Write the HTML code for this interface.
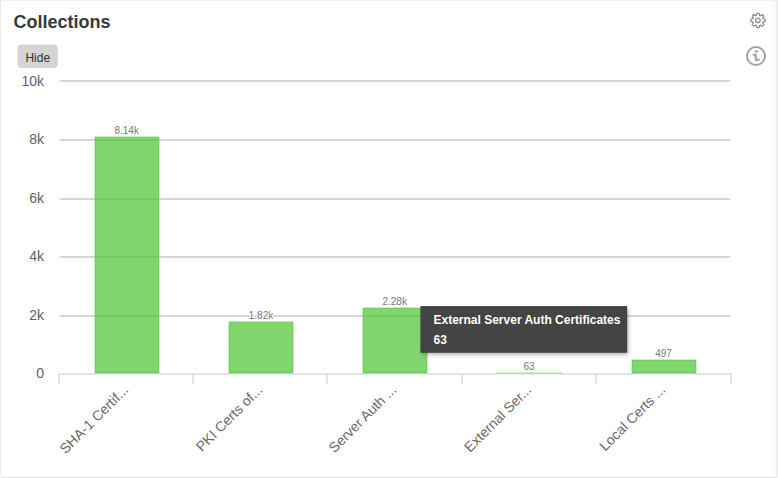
<!DOCTYPE html>
<html><head><meta charset="utf-8">
<style>
html,body{margin:0;padding:0;background:#fff;width:778px;height:478px;overflow:hidden;}
body{font-family:"Liberation Sans",Arial,sans-serif;position:relative;}
.card{position:absolute;left:0;top:0;width:776px;height:476px;border:1px solid #ebebeb;border-top-color:#f3f3f3;border-right-color:#e6e6e6;border-bottom-color:#e2e2e2;border-radius:0 0 3px 3px;background:#fff;}
.title{position:absolute;left:13.4px;top:11.2px;font-size:18px;font-weight:bold;color:#383838;line-height:22px;}
svg{position:absolute;left:0;top:0;}
</style></head><body>
<div class="card"></div>
<div style="position:absolute;left:771px;top:1px;width:6px;height:474px;background:linear-gradient(to right,rgba(0,0,0,0),rgba(0,0,0,0.045));"></div>
<div class="title">Collections</div>
<svg width="778" height="478" viewBox="0 0 778 478">
  <defs><filter id="soft" x="-20%" y="-20%" width="140%" height="140%"><feGaussianBlur stdDeviation="0.3"/></filter></defs>
  <!-- hide button -->
  <rect x="17.6" y="44.5" width="40.2" height="23.6" rx="4" fill="#d4d4d7"/>
  <text x="37.8" y="61.6" text-anchor="middle" font-family="Liberation Sans, Arial, sans-serif" font-size="12" fill="#333">Hide</text>
  <!-- gear icon -->
  <g transform="translate(758,20.4)" fill="none" stroke="#858585" stroke-width="1.2" stroke-linejoin="round" filter="url(#soft)">
    <path d="M-1.51 -5.08L-1.24 -7.04A7.15 7.15 0 0 1 1.24 -7.04L1.51 -5.08A5.3 5.3 0 0 1 2.53 -4.66L4.10 -5.86A7.15 7.15 0 0 1 5.86 -4.10L4.66 -2.53A5.3 5.3 0 0 1 5.08 -1.51L7.04 -1.24A7.15 7.15 0 0 1 7.04 1.24L5.08 1.51A5.3 5.3 0 0 1 4.66 2.53L5.86 4.10A7.15 7.15 0 0 1 4.10 5.86L2.53 4.66A5.3 5.3 0 0 1 1.51 5.08L1.24 7.04A7.15 7.15 0 0 1 -1.24 7.04L-1.51 5.08A5.3 5.3 0 0 1 -2.53 4.66L-4.10 5.86A7.15 7.15 0 0 1 -5.86 4.10L-4.66 2.53A5.3 5.3 0 0 1 -5.08 1.51L-7.04 1.24A7.15 7.15 0 0 1 -7.04 -1.24L-5.08 -1.51A5.3 5.3 0 0 1 -4.66 -2.53L-5.86 -4.10A7.15 7.15 0 0 1 -4.10 -5.86L-2.53 -4.66A5.3 5.3 0 0 1 -1.51 -5.08Z"/>
    <circle cx="-0.1" cy="-0.1" r="2.3"/>
  </g>
  <!-- info icon -->
  <g fill="none" stroke="#a0a0a0" stroke-width="1.9" filter="url(#soft)">
    <circle cx="756" cy="56" r="9"/>
    <path d="M753.6 54.8H755.7V59.3Q756.1 60.9 758.8 59.6" stroke-width="2.1" stroke-linejoin="round" stroke-linecap="round"/>
  </g>
  <circle cx="756.3" cy="51.3" r="1.4" fill="#a0a0a0" filter="url(#soft)"/>
  <!-- gridlines -->
  <g fill="#d6d6d6">
    <rect x="59.6" y="80" width="670.7" height="2"/>
    <rect x="59.6" y="139" width="670.7" height="2"/>
    <rect x="59.6" y="198" width="670.7" height="2"/>
    <rect x="59.6" y="256" width="670.7" height="2"/>
    <rect x="59.6" y="315" width="670.7" height="2"/>
  </g>
  <!-- y labels -->
  <g font-family="Liberation Sans, Arial, sans-serif" font-size="14" fill="#626262" text-anchor="end">
    <text x="44" y="86">10k</text>
    <text x="44" y="144">8k</text>
    <text x="44" y="203">6k</text>
    <text x="44" y="261">4k</text>
    <text x="44" y="320">2k</text>
    <text x="44" y="378">0</text>
  </g>
  <!-- x axis -->
  <g fill="#dde3f0">
    <rect x="58" y="373" width="674" height="2"/>
    <rect x="58" y="375" width="2" height="8.6"/>
    <rect x="192" y="375" width="2" height="8.6"/>
    <rect x="326" y="375" width="2" height="8.6"/>
    <rect x="461" y="375" width="2" height="8.6"/>
    <rect x="595" y="375" width="2" height="8.6"/>
    <rect x="730" y="375" width="2" height="8.6"/>
  </g>
  <!-- bars -->
  <g fill="#4ac42d" fill-opacity="0.7" stroke="#4ac42d" stroke-opacity="0.7" stroke-width="1">
    <rect x="95.1" y="137.1" width="63.8" height="235.8"/>
    <rect x="229.1" y="322.1" width="63.8" height="50.8"/>
    <rect x="363.1" y="308.1" width="63.8" height="64.8"/>
    <rect x="632.1" y="360.1" width="63.8" height="12.8"/>
  </g>
  <rect x="496.5" y="372" width="65" height="1" fill="#d6f3cf"/>
  <rect x="496.5" y="373" width="65" height="1" fill="#a9dda2"/>
  <g fill="#efeef9">
    <rect x="95" y="374" width="64" height="1"/>
    <rect x="229" y="374" width="64" height="1"/>
    <rect x="363" y="374" width="64" height="1"/>
    <rect x="497" y="374" width="64" height="1"/>
    <rect x="632" y="374" width="64" height="1"/>
  </g>
  <!-- data labels -->
  <g font-family="Liberation Sans, Arial, sans-serif" font-size="10" fill="#777" stroke="#fff" stroke-width="2" stroke-linejoin="round" paint-order="stroke" text-anchor="middle">
    <text x="126.7" y="134.2">8.14k</text>
    <text x="261" y="318.6">1.82k</text>
    <text x="394.7" y="305.4">2.28k</text>
    <text x="529" y="370.3">63</text>
    <text x="663.6" y="357.4">497</text>
  </g>
  <!-- x labels -->
  <g font-family="Liberation Sans, Arial, sans-serif" font-size="14" fill="#696969" text-anchor="end">
    <text transform="translate(129.3,390.7) rotate(-45)">SHA-1 Certif...</text>
    <text transform="translate(263.3,390.7) rotate(-45)">PKI Certs of...</text>
    <text transform="translate(397.3,390.7) rotate(-45)">Server Auth ...</text>
    <text transform="translate(532.3,390.7) rotate(-45)">External Ser...</text>
    <text transform="translate(666.3,390.7) rotate(-45)">Local Certs ...</text>
  </g>
  <!-- tooltip -->
  <defs>
    <filter id="sb" x="-10%" y="-30%" width="130%" height="170%"><feGaussianBlur stdDeviation="2.2"/></filter>
  </defs>
  <rect x="421" y="306.7" width="205.7" height="45.5" fill="#000" fill-opacity="0.3" filter="url(#sb)" transform="translate(1.5,2.5)"/>
  <rect x="421" y="306.7" width="205.7" height="45.5" fill="#444" stroke="#3a3a3a" stroke-width="1"/>
  <g font-family="Liberation Sans, Arial, sans-serif" font-size="12" font-weight="bold" fill="#fff">
    <text x="433.5" y="324">External Server Auth Certificates</text>
    <text x="433.5" y="344">63</text>
  </g>
</svg>
</body></html>
